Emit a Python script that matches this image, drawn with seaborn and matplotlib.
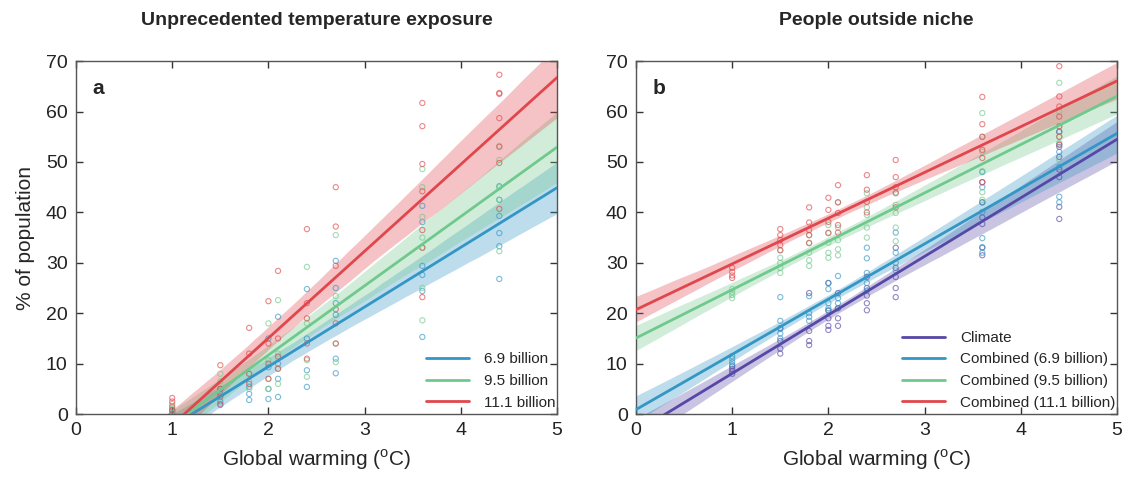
import numpy as np
import pandas as pd
import matplotlib
matplotlib.use("Agg")
import matplotlib.pyplot as plt
import seaborn as sns
from matplotlib.lines import Line2D
from matplotlib.collections import PolyCollection

# ---------------- data ----------------
warming_levels = [1.0, 1.5, 1.8, 2.0, 2.1, 2.4, 2.7, 3.6, 4.4]

# Panel a: unprecedented temperature exposure (% of population)
a_blue = [  # 6.9 billion
    [0.8, 0.3, 0.0],
    [5.0, 4.0, 2.5, 1.8],
    [5.4, 4.0, 2.8],
    [15.0, 9.3, 5.0, 3.0],
    [19.3, 10.0, 7.0, 3.4],
    [24.8, 15.0, 8.7, 5.4],
    [30.4, 25.0, 22.0, 19.7, 11.0, 8.1],
    [41.3, 38.1, 29.4, 27.6, 24.4, 15.3],
    [45.2, 42.5, 39.3, 35.9, 33.3, 26.8],
]
a_green = [  # 9.5 billion
    [2.0, 1.2, 0.5],
    [8.0, 6.5, 5.0, 3.5],
    [8.0, 6.5, 5.0],
    [18.0, 10.7, 7.0, 5.0],
    [22.6, 12.0, 9.0, 6.0],
    [29.2, 18.0, 10.7, 7.4],
    [35.5, 23.4, 14.0, 10.3],
    [48.6, 45.0, 39.1, 35.0, 33.0, 25.0, 18.6],
    [53.2, 50.4, 45.0, 42.5, 32.3],
]
a_red = [  # 11.1 billion
    [3.2, 2.5, 1.5, 0.8],
    [9.7, 5.0, 3.5, 2.0],
    [17.1, 12.0, 8.0, 6.0],
    [22.4, 14.0, 10.0, 7.0],
    [28.4, 15.0, 11.4, 9.0],
    [36.7, 22.0, 19.0, 14.0, 11.0],
    [45.0, 37.2, 29.4, 20.8, 18.0, 14.0],
    [61.7, 57.1, 49.6, 44.2, 36.5, 33.0, 23.2],
    [67.3, 63.7, 63.5, 58.7, 53.0, 49.8, 40.7],
]

# Panel b: people outside niche (% of population)
b_climate = [
    [9.5, 9.0, 8.5, 8.0],
    [17.0, 14.5, 13.0, 12.0],
    [24.0, 16.5, 14.5, 13.7],
    [26.0, 20.5, 19.0, 17.5, 16.7],
    [24.0, 21.0, 19.0, 17.5],
    [27.2, 25.0, 23.5, 22.0, 20.6],
    [33.0, 29.0, 27.2, 25.0, 23.2],
    [46.0, 42.0, 39.0, 37.7, 33.0, 31.5],
    [56.0, 53.0, 51.0, 48.5, 47.0, 41.1, 38.7],
]
b_blue = [
    [11.5, 11.0, 10.3, 9.8],
    [23.2, 18.5, 17.0, 16.0, 15.0],
    [23.4, 20.0, 19.3, 18.5],
    [26.0, 24.8, 22.0, 21.0, 20.6],
    [27.4, 23.0, 22.0, 21.0],
    [33.0, 30.9, 28.0, 26.0, 24.5],
    [36.0, 32.0, 30.0, 28.5],
    [48.0, 45.0, 42.0, 40.1, 34.9, 33.1, 32.0],
    [56.0, 53.5, 52.0, 49.0, 43.1, 42.0],
]
b_green = [
    [24.8, 24.2, 23.6, 23.0],
    [32.5, 31.0, 30.0, 29.0, 28.0],
    [35.5, 34.0, 32.0, 30.5, 29.4],
    [37.5, 36.0, 34.0, 32.0, 31.0],
    [42.0, 37.0, 34.5, 32.7, 31.5],
    [43.8, 41.0, 39.5, 37.0, 35.0],
    [44.0, 41.5, 39.9, 37.0, 34.3],
    [59.7, 55.0, 52.0, 48.2, 44.0, 42.5],
    [65.7, 60.0, 57.0, 55.0, 53.8, 50.5],
]
b_red = [
    [29.0, 28.2, 27.5, 27.0],
    [36.7, 35.5, 34.5, 33.5, 32.5],
    [41.0, 38.0, 36.5, 35.5, 33.9],
    [42.9, 40.5, 38.1, 35.9],
    [45.4, 42.0, 39.9, 37.5, 36.0],
    [47.4, 44.5, 42.1, 40.0],
    [50.4, 47.0, 45.0, 43.8, 41.0],
    [62.9, 57.5, 55.0, 52.4, 50.8, 46.0],
    [69.0, 63.0, 61.0, 59.0, 57.1, 55.0, 53.4],
]

a_labels = ["6.9 billion", "9.5 billion", "11.1 billion"]
b_labels = ["Climate", "Combined (6.9 billion)", "Combined (9.5 billion)", "Combined (11.1 billion)"]
titles = ["Unprecedented temperature exposure", "People outside niche"]
panel_letters = ["a", "b"]

C_BLUE = "#3396c4"
C_GREEN = "#70c98c"
C_RED = "#e0474c"
C_PURPLE = "#5648a6"


def to_frame(groups):
    xs, ys = [], []
    for xv, vals in zip(warming_levels, groups):
        for v in vals:
            xs.append(xv)
            ys.append(v)
    return pd.DataFrame({"x": xs, "y": ys})


sns.set_style("ticks")
plt.rcParams["font.family"] = ["Liberation Sans", "DejaVu Sans"]
plt.rcParams["mathtext.fontset"] = "custom"
plt.rcParams["mathtext.rm"] = "Liberation Sans"

fig = plt.figure(figsize=(11.26, 4.93), dpi=100)
ax_a = fig.add_axes([0.0675, 0.160, 0.4272, 0.716])
ax_b = fig.add_axes([0.5648, 0.160, 0.4272, 0.716])

panels = [
    (ax_a, [a_blue, a_green, a_red], [C_BLUE, C_GREEN, C_RED], a_labels),
    (ax_b, [b_climate, b_blue, b_green, b_red], [C_PURPLE, C_BLUE, C_GREEN, C_RED], b_labels),
]

for i, (ax, series, colors, labels) in enumerate(panels):
    ax.set_xlim(0, 5)
    ax.set_ylim(0, 70)
    for groups, col in zip(series, colors):
        df = to_frame(groups)
        sns.regplot(
            data=df, x="x", y="y", ax=ax, color=col, truncate=False,
            ci=95, n_boot=1000, seed=1,
            scatter_kws=dict(s=14, facecolors="none", edgecolors=col,
                             linewidths=0.8, alpha=0.65, zorder=2),
            line_kws=dict(lw=2.0, zorder=3),
        )
    # stronger confidence bands, as in the reference
    for coll in ax.collections:
        if isinstance(coll, PolyCollection):
            coll.set_alpha(0.32)
            coll.set_linewidth(0)
    ax.set_xlim(0, 5)
    ax.set_ylim(0, 70)
    ax.set_xticks(range(0, 6))
    ax.set_yticks(range(0, 71, 10))
    ax.tick_params(direction="in", top=True, right=True, labelsize=14,
                   length=5, width=1, colors="#333333", labelcolor="#222222", pad=6)
    for sp in ax.spines.values():
        sp.set_color("#555555")
        sp.set_linewidth(1.0)
    ax.set_xlabel("Global warming ($^{\\mathrm{o}}$C)", fontsize=15, labelpad=6)
    ax.set_ylabel("% of population" if i == 0 else "", fontsize=15, labelpad=8)
    ax.set_title(titles[i], fontsize=14, fontweight="bold", pad=26)
    ax.text(0.035, 0.95, panel_letters[i], transform=ax.transAxes,
            fontsize=15, fontweight="bold", va="top", ha="left")
    handles = [Line2D([0], [0], color=c, lw=2) for c in colors]
    ax.legend(handles, labels, loc="lower right", frameon=False, fontsize=11,
              handlelength=2.8, handletextpad=1.0, labelspacing=0.5,
              borderaxespad=0.0, bbox_to_anchor=(1.01, -0.005))

fig.savefig("out.png", dpi=100)
